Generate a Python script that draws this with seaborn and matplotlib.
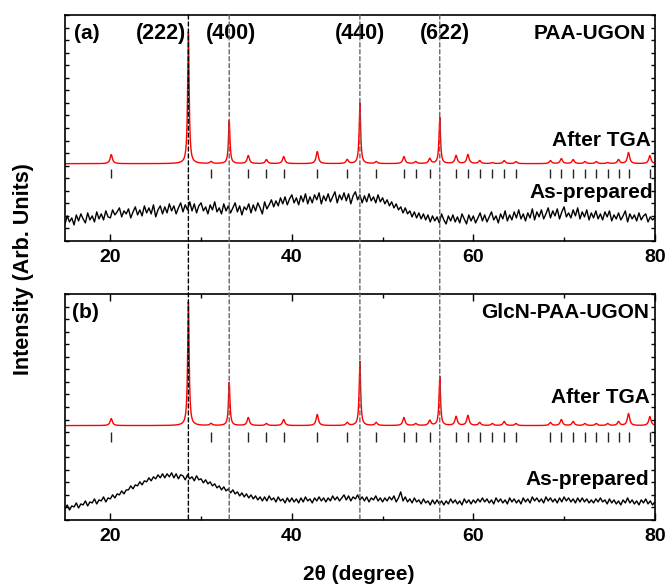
import numpy as np
import pandas as pd
import matplotlib
matplotlib.use("Agg")
import matplotlib.pyplot as plt
from matplotlib.ticker import MultipleLocator
from matplotlib.patches import ConnectionPatch
import seaborn as sns

two_theta_coarse = np.arange(15.0, 80.001, 0.25)

as_prep_a = [17, 25, 19, 23, 16, 26, 20, 27, 22, 18, 28, 21, 25, 19, 29, 22,
             27, 21, 30, 24, 23, 31, 26, 29, 33, 24, 30, 27, 32, 23, 29, 34,
             26, 31, 25, 35, 28, 33, 27, 36, 24, 31, 35, 27, 34, 28, 37, 30,
             35, 27, 33, 38, 29, 36, 31, 39, 30, 37, 28, 35, 38, 30, 34, 27,
             36, 31, 39, 29, 33, 27, 37, 30, 35, 28, 33, 38, 29, 35, 26, 34,
             31, 37, 28, 36, 30, 38, 33, 27, 39, 32, 36, 41, 34, 40, 35, 43,
             37, 44, 36, 42, 46, 38, 43, 36, 45, 39, 47, 37, 44, 38, 46, 41,
             48, 37, 45, 40, 47, 39, 44, 49, 38, 46, 41, 48, 40, 47, 37, 45,
             49, 41, 46, 38, 45, 39, 47, 40, 44, 38, 46, 39, 43, 37, 41, 35,
             39, 33, 37, 31, 34, 28, 33, 27, 30, 24, 29, 23, 28, 22, 27, 21,
             26, 19, 25, 20, 24, 18, 27, 21, 17, 25, 20, 26, 19, 24, 18, 27,
             22, 17, 26, 20, 25, 18, 23, 28, 20, 26, 19, 24, 29, 21, 25, 18,
             27, 22, 30, 20, 26, 21, 29, 23, 31, 22, 27, 20, 28, 23, 32, 21,
             29, 24, 31, 22, 27, 33, 23, 30, 25, 32, 22, 29, 34, 24, 28, 23,
             31, 25, 33, 22, 29, 24, 31, 21, 28, 23, 30, 22, 27, 21, 29, 24,
             30, 20, 26, 22, 28, 21, 25, 30, 19, 27, 22, 26, 20, 28, 21, 25,
             27, 19, 24, 21, 23]

as_prep_b = [11, 15, 10, 14, 13, 17, 12, 16, 15, 19, 14, 18, 17, 21, 16, 20,
             19, 23, 18, 22, 21, 25, 22, 26, 25, 29, 26, 30, 30, 34, 31, 35,
             34, 38, 35, 39, 38, 42, 39, 43, 41, 45, 42, 46, 42, 46, 43, 47,
             42, 46, 41, 45, 44, 40, 45, 41, 43, 39, 44, 40, 41, 37, 40, 36,
             38, 34, 36, 32, 34, 30, 33, 29, 31, 27, 30, 26, 28, 24, 27, 23,
             26, 22, 25, 21, 24, 20, 23, 19, 23, 19, 24, 20, 22, 18, 23, 19,
             21, 17, 22, 18, 22, 18, 21, 17, 22, 18, 23, 19, 21, 17, 22, 19,
             23, 19, 22, 18, 22, 19, 24, 20, 23, 19, 22, 25, 20, 24, 19, 23,
             21, 25, 20, 23, 19, 23, 18, 22, 20, 24, 19, 22, 18, 22, 19, 23,
             20, 24, 18, 22, 28, 19, 23, 18, 21, 17, 22, 18, 20, 16, 21, 17,
             19, 15, 20, 16, 20, 16, 19, 15, 19, 16, 21, 17, 20, 16, 19, 15,
             21, 17, 20, 16, 20, 17, 21, 18, 22, 18, 21, 17, 20, 16, 22, 18,
             21, 17, 20, 16, 22, 18, 21, 17, 20, 16, 22, 18, 21, 17, 23, 19,
             22, 18, 21, 17, 23, 19, 22, 18, 21, 17, 22, 18, 23, 19, 22, 18,
             21, 17, 22, 18, 22, 18, 21, 17, 20, 17, 21, 18, 22, 18, 20, 16,
             21, 17, 20, 16, 19, 15, 20, 17, 22, 17, 20, 16, 19, 15, 20, 17,
             21, 16, 19, 15, 18]

# after TGA: main reflections + minor reflections (positions in 2theta)
main_pos = [28.6, 33.1, 47.5, 56.3]
main_hkl = ["(222)", "(400)", "(440)", "(622)"]
main_h_a = [131, 43, 60, 46]
main_h_b = [123, 43, 64, 49]

minor_pos = [20.1, 31.1, 35.2, 37.2, 39.1, 42.8, 46.1, 49.3, 52.35, 53.65,
             55.2, 58.1, 59.4, 60.7, 62.1, 63.4, 64.7, 68.5, 69.7, 71.0,
             72.3, 73.55, 74.8, 76.0, 77.1, 79.45]
minor_h_a = [9, 2, 8, 4, 7, 12, 4, 2, 7, 2,
             5, 8, 9, 3, 1, 3, 2, 3, 5, 4,
             2, 2, 1, 4, 11, 8]
minor_h_b = [7, 2, 8, 2, 6, 11, 3, 3, 8, 2,
             5, 9, 10, 3, 2, 4, 2, 3, 6, 4,
             2, 2, 2, 4, 12, 9]

base_a, base_b = 77, 94
ref_ticks_a = (63, 72)
ref_ticks_b = (78, 88)

samples = ["PAA-UGON", "GlcN-PAA-UGON"]


def tga_pattern(x, base, heights_main, heights_minor):
    y = np.full_like(x, float(base))
    for p, h in zip(main_pos + minor_pos, heights_main + heights_minor):
        w = 0.1 if h > 20 else 0.15
        y += h / (1 + ((x - p) / w) ** 2)
    return y


sns.set_style("ticks")
plt.rcParams["font.family"] = ["Liberation Sans", "DejaVu Sans"]
plt.rcParams["font.weight"] = "bold"
plt.rcParams["text.color"] = "black"
plt.rcParams["xtick.color"] = "black"
plt.rcParams["ytick.color"] = "black"
plt.rcParams["axes.edgecolor"] = "black"

fig = plt.figure(figsize=(6.65, 5.86), dpi=100)
ax_a = fig.add_axes([0.0977, 0.5887, 0.887, 0.3857])
ax_b = fig.add_axes([0.0977, 0.1126, 0.887, 0.3857])

x_fine = np.arange(15.0, 80.001, 0.02)

panels = [
    (ax_a, "(a)", as_prep_a, base_a, main_h_a, minor_h_a, ref_ticks_a,
     [(79.6, 100), (79.8, 48), (79.0, 207)]),
    (ax_b, "(b)", as_prep_b, base_b, main_h_b, minor_h_b, ref_ticks_b,
     [(79.4, 122), (79.4, 40), (79.4, 207)]),
]

for i, (ax, tag, prep, base, hm, hn, rt, txt) in enumerate(panels):
    df_prep = pd.DataFrame({"two_theta": two_theta_coarse, "intensity": prep})
    df_tga = pd.DataFrame({"two_theta": x_fine,
                           "intensity": tga_pattern(x_fine, base, hm, hn)})
    sns.lineplot(data=df_prep, x="two_theta", y="intensity", ax=ax,
                 color="black", linewidth=1.0)
    sns.lineplot(data=df_tga, x="two_theta", y="intensity", ax=ax,
                 color="red", linewidth=1.0)
    ax.vlines(minor_pos, rt[0], rt[1], color="0.15", linewidth=1.0)

    ax.set_xlim(15, 80)
    ax.set_ylim(0, 225)
    ax.set_xlabel("")
    ax.set_ylabel("")
    ax.xaxis.set_major_locator(MultipleLocator(20))
    ax.xaxis.set_minor_locator(MultipleLocator(10))
    ax.yaxis.set_major_locator(MultipleLocator(12.5))
    ax.tick_params(axis="x", which="major", direction="in", length=5, width=1,
                   labelsize=14, top=(i == 1), pad=6)
    ax.tick_params(axis="x", which="minor", direction="in", length=3, width=1,
                   top=(i == 1))
    ax.tick_params(axis="y", which="major", direction="in", length=3, width=1,
                   left=True, right=True, labelleft=False)
    for lab in ax.get_xticklabels():
        lab.set_fontweight("bold")
    for s in ax.spines.values():
        s.set_visible(True)
        s.set_linewidth(1.2)
        s.set_color("black")

    ax.text(16.0 if i == 0 else 15.8, 207, tag, fontsize=15, fontweight="bold",
            ha="left", va="center")
    ax.text(txt[0][0], txt[0][1], "After TGA", fontsize=15, fontweight="bold",
            ha="right", va="center")
    ax.text(txt[1][0], txt[1][1], "As-prepared", fontsize=15, fontweight="bold",
            ha="right", va="center")
    ax.text(txt[2][0], txt[2][1], samples[i], fontsize=15, fontweight="bold",
            ha="right", va="center")

# hkl labels above panel (a)
hkl_x = [28.3, 33.3, 47.5, 56.9]
for j, (xl, lab) in enumerate(zip(hkl_x, main_hkl)):
    ax_a.text(xl, 207, lab, fontsize=15.5, fontweight="bold",
              ha="right" if j == 0 else "center", va="center")

# dashed guide lines through both panels
for j, p in enumerate(main_pos):
    col = "black" if j == 0 else "0.4"
    con = ConnectionPatch(xyA=(p, 1), coordsA=ax_a.get_xaxis_transform(),
                          xyB=(p, 0), coordsB=ax_b.get_xaxis_transform(),
                          color=col, linewidth=1.0, linestyle=(0, (3, 2)),
                          zorder=5)
    fig.add_artist(con)

fig.text(0.036, 0.54, "Intensity (Arb. Units)", rotation=90, fontsize=15.5,
         fontweight="bold", ha="center", va="center")
fig.text(0.54, 0.019, "2\u03b8 (degree)", fontsize=15, fontweight="bold",
         ha="center", va="center")

fig.savefig("out.png", dpi=100)
plt.close()
